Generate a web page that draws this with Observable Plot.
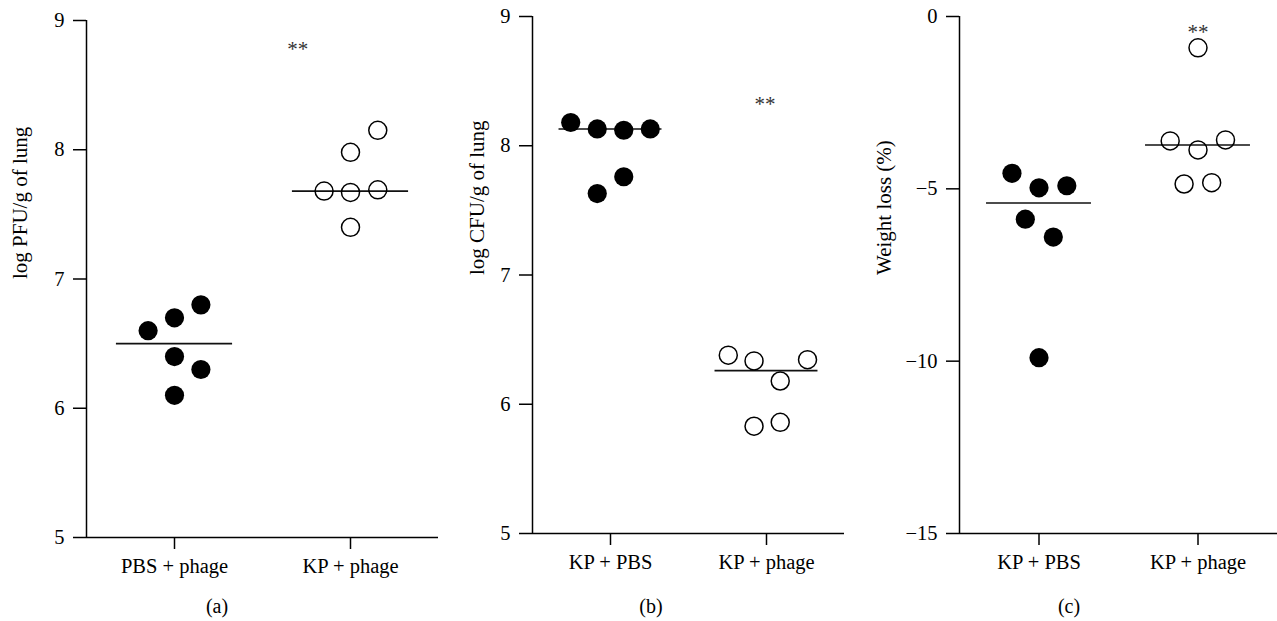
<!DOCTYPE html>
<html>
<head>
<meta charset="utf-8">
<script src="https://cdn.jsdelivr.net/npm/d3@7"></script>
<script src="https://cdn.jsdelivr.net/npm/@observablehq/plot@0.6"></script>
<style>
  html, body { margin: 0; padding: 0; background: #fff; }
  #wrap { position: relative; width: 1277px; height: 621px; overflow: hidden; font-family: "Liberation Serif", "DejaVu Serif", serif; color: #000; }
  .panel { position: absolute; top: 0; }
  .cap { position: absolute; top: 596px; height: 20px; line-height: 20px; font-size: 20px; text-align: center; transform: translateX(-50%); white-space: nowrap; }
</style>
</head>
<body>
<div id="wrap"></div>
<script>
// ---- Panel (a): log PFU/g of lung ----
const groupsA = ["PBS + phage", "KP + phage"];
const pfuPBS = [6.6, 6.7, 6.8, 6.4, 6.3, 6.1];
const pfuPBSJitter = [-0.15, 0, 0.15, 0, 0.15, 0];
const pfuKP = [8.15, 7.98, 7.68, 7.67, 7.69, 7.40];
const pfuKPJitter = [0.155, 0, -0.15, 0, 0.155, 0];
const pfuMedians = [6.5, 7.68];
const pfuTicks = [5, 6, 7, 8, 9];

// ---- Panel (b): log CFU/g of lung ----
const groupsB = ["KP + PBS", "KP + phage"];
const cfuPBS = [8.18, 8.13, 8.12, 8.13, 7.76, 7.63];
const cfuPBSJitter = [-0.255, -0.085, 0.085, 0.255, 0.085, -0.085];
const cfuPhage = [6.38, 6.335, 6.345, 6.18, 5.83, 5.86];
const cfuPhageJitter = [-0.245, -0.08, 0.263, 0.088, -0.08, 0.088];
const cfuMedians = [8.13, 6.26];
const cfuTicks = [5, 6, 7, 8, 9];

// ---- Panel (c): Weight loss (%) ----
const groupsC = ["KP + PBS", "KP + phage"];
const wlPBS = [-4.55, -4.97, -4.91, -5.88, -6.40, -9.9];
const wlPBSJitter = [-0.17, 0, 0.175, -0.086, 0.09, 0];
const wlPhage = [-0.91, -3.61, -3.87, -3.58, -4.86, -4.82];
const wlPhageJitter = [0, -0.175, 0, 0.173, -0.0875, 0.086];
const wlMedians = [-5.41, -3.73];
const wlTicks = [-15, -10, -5, 0];

const minus = d => d < 0 ? "\u2212" + Math.abs(d) : String(d);

function panel(cfg) {
  const filled = cfg.filled.map((v, i) => ({x: 1 + cfg.filledJitter[i], y: v}));
  const open = cfg.open.map((v, i) => ({x: 2 + cfg.openJitter[i], y: v}));
  const meds = cfg.medians.map((v, i) => ({g: i + 1, y: v}));
  return Plot.plot({
    width: cfg.width,
    height: cfg.height,
    marginLeft: cfg.marginLeft,
    marginRight: cfg.marginRight,
    marginTop: cfg.marginTop,
    marginBottom: cfg.height - cfg.bottomY,
    style: {fontFamily: "'Liberation Serif', 'DejaVu Serif', serif", fontSize: "20px", color: "#000", background: "transparent", overflow: "visible"},
    x: {domain: [0.5, 2.5], axis: null},
    y: {domain: cfg.yDomain, axis: null},
    marks: [
      Plot.axisY({ticks: cfg.ticks, tickSize: 13, tickPadding: 9, tickFormat: minus, strokeWidth: 1.5, label: null, fontSize: 20.5}),
      Plot.axisX({ticks: [1, 2], tickSize: 12, tickPadding: 9, tickFormat: d => cfg.groups[d - 1], strokeWidth: 1.5, label: null, fontSize: 20.5}),
      Plot.ruleX([0.5], {strokeWidth: 1.5}),
      Plot.ruleY([cfg.yDomain[0]], {strokeWidth: 1.5}),
      Plot.ruleY(meds, {y: "y", x1: d => d.g - 0.33, x2: d => d.g + 0.33, strokeWidth: 1.6, stroke: "#111"}),
      Plot.dot(filled, {x: "x", y: "y", r: 9.6, fill: "#000", stroke: "none"}),
      Plot.dot(open, {x: "x", y: "y", r: 9, fill: "none", stroke: "#000", strokeWidth: 1.5}),
      Plot.text([cfg.sig], {x: "x", y: "y", text: () => "**", fill: "#333", fontSize: 21}),
      Plot.text([cfg.title], {frameAnchor: "left", dx: cfg.titleDx, rotate: -90, text: d => d, fontSize: 21})
    ]
  });
}

const specs = [
  {left: 0, width: 440, marginLeft: 86, marginRight: 2, marginTop: 20, bottomY: 537, height: 590,
   yDomain: [5, 9], ticks: pfuTicks, groups: groupsA,
   filled: pfuPBS, filledJitter: pfuPBSJitter, open: pfuKP, openJitter: pfuKPJitter, medians: pfuMedians,
   sig: {x: 1.70, y: 8.78}, title: "log PFU/g of lung", titleDx: -66, cap: "(a)", capX: 217},
  {left: 440, width: 410, marginLeft: 92, marginRight: 6, marginTop: 16, bottomY: 533, height: 590,
   yDomain: [5, 9], ticks: cfuTicks, groups: groupsB,
   filled: cfuPBS, filledJitter: cfuPBSJitter, open: cfuPhage, openJitter: cfuPhageJitter, medians: cfuMedians,
   sig: {x: 1.99, y: 8.32}, title: "log CFU/g of lung", titleDx: -55, cap: "(b)", capX: 651},
  {left: 860, width: 417, marginLeft: 99, marginRight: 0, marginTop: 16, bottomY: 533, height: 590,
   yDomain: [-15, 0], ticks: wlTicks, groups: groupsC,
   filled: wlPBS, filledJitter: wlPBSJitter, open: wlPhage, openJitter: wlPhageJitter, medians: wlMedians,
   sig: {x: 2.0, y: -0.45}, title: "Weight loss (%)", titleDx: -75, cap: "(c)", capX: 1069}
];

const wrap = document.getElementById("wrap");
for (const s of specs) {
  const div = document.createElement("div");
  div.className = "panel";
  div.style.left = s.left + "px";
  div.appendChild(panel(s));
  wrap.appendChild(div);
  const cap = document.createElement("div");
  cap.className = "cap";
  cap.style.left = s.capX + "px";
  cap.textContent = s.cap;
  wrap.appendChild(cap);
}
</script>
</body>
</html>
